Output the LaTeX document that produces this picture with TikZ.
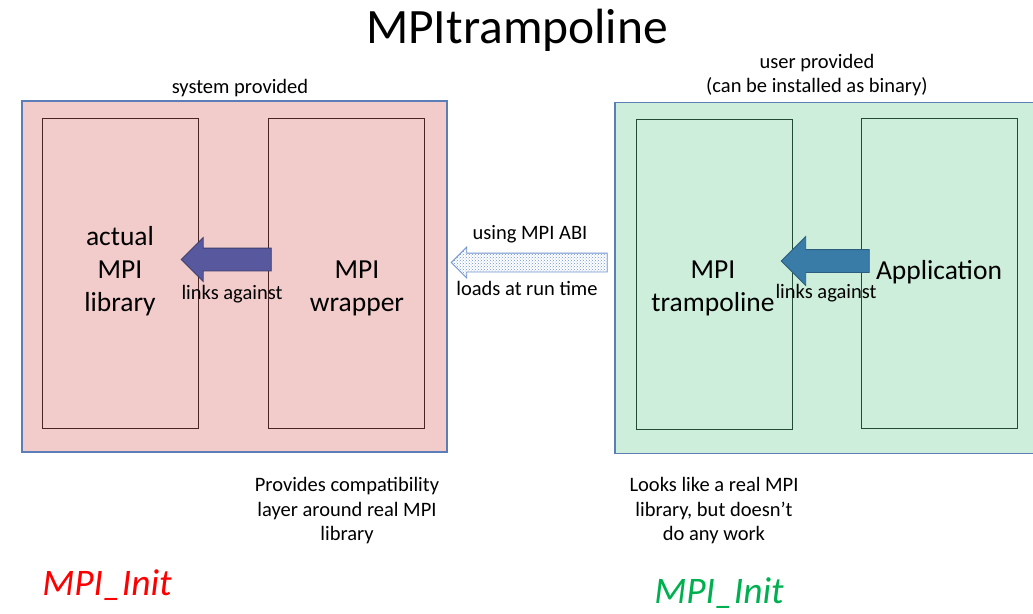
\documentclass[tikz,border=0pt]{standalone}
\usepackage{fontspec}
\setmainfont{Carlito}
\usetikzlibrary{shapes.arrows, patterns, positioning}

\definecolor{syspink}{HTML}{F2CBCB}
\definecolor{usergreen}{HTML}{CCEEDA}
\definecolor{frameblue}{HTML}{5B7DB8}
\definecolor{sysline}{HTML}{4A2424}
\definecolor{userline}{HTML}{234A34}
\definecolor{linkpurple}{HTML}{58589E}
\definecolor{linkteal}{HTML}{3A7CA8}
\definecolor{abiblue}{HTML}{6F93CF}
\definecolor{initgreen}{HTML}{00B050}

\begin{document}
\begin{tikzpicture}[x=1pt, y=-1pt,
	outer/.style={draw=frameblue, line width=1.2pt, minimum width=425pt, minimum height=351pt, inner sep=0pt},
	inner/.style={draw, line width=1pt, minimum width=156pt, minimum height=310pt, inner sep=0pt},
	lbl/.style={font=\fontsize{20.5}{24.5}\selectfont, align=center, inner sep=0pt},
	big/.style={font=\fontsize{27.5}{33}\selectfont, align=center, inner sep=0pt},
	blockarrow/.style={single arrow, rotate=180, single arrow head indent=0pt, single arrow tip angle=90,
		inner xsep=0pt, inner ysep=11pt, line width=0.8pt},
	initlbl/.style={font=\fontsize{37.5}{44}\selectfont\itshape, inner sep=0pt}]
	\useasboundingbox (0,0) rectangle (1033,613);

	\node[font=\fontsize{49.5}{60}\selectfont, inner sep=0pt] (title) at (517,30) {MPItrampoline};

	% system side
	\node[outer, fill=syspink] (sys) at (234.5,276.5) {};
	\node[inner, draw=sysline] (lib) at (120,273) {};
	\node[inner, draw=sysline] (wrap) at (346,273) {};
	\node[lbl] (syslbl) at (240,88) {system provided};
	\node[big] (libtxt) at (120,271.5) {actual\\MPI\\library};
	\node[big] (wraptxt) at (357,288) {MPI\\wrapper};
	\node[blockarrow, fill=linkpurple, draw=linkpurple!70!black, minimum height=90pt, minimum width=43pt,
		single arrow head extend=10.5pt] (link1) at (232,259.5) {};
	\node[lbl] (link1txt) at (232,294) {links against};

	% user side
	\node[outer, fill=usergreen] (user) at (827.5,278) {};
	\node[inner, draw=userline] (tramp) at (714,274) {};
	\node[inner, draw=userline] (app) at (939,273) {};
	\node[lbl] (userlbl) at (817,75) {user provided\\(can be installed as binary)};
	\node[big] (tramptxt) at (713,288.5) {MPI\\trampoline};
	\node[big] (apptxt) at (939,272) {Application};
	\node[blockarrow, fill=linkteal, draw=linkteal!75!black, minimum height=88pt, minimum width=48pt,
		single arrow head extend=13pt] (link2) at (831,261) {};
	\node[lbl] (link2txt) at (826,293) {links against};

	% ABI
	\node[blockarrow, preaction={fill=white}, pattern=crosshatch dots, pattern color=abiblue, draw=abiblue,
		inner ysep=9pt, minimum height=156pt, minimum width=30pt, single arrow head extend=6pt] (abi) at (534,262.5) {};
	\node[lbl] (abitop) at (530,234) {using MPI ABI};
	\node[lbl] (abibot) at (527,288) {loads at run time};

	\node[lbl] (wrapnote) at (347,511) {Provides compatibility\\layer around real MPI\\library};
	\node[lbl] (trampnote) at (714,511) {Looks like a real MPI\\library, but doesn’t\\do any work};

	\node[initlbl, text=red] (init1) at (107,585) {MPI\_Init};
	\node[initlbl, text=initgreen] (init2) at (719,593) {MPI\_Init};
\end{tikzpicture}
\end{document}
